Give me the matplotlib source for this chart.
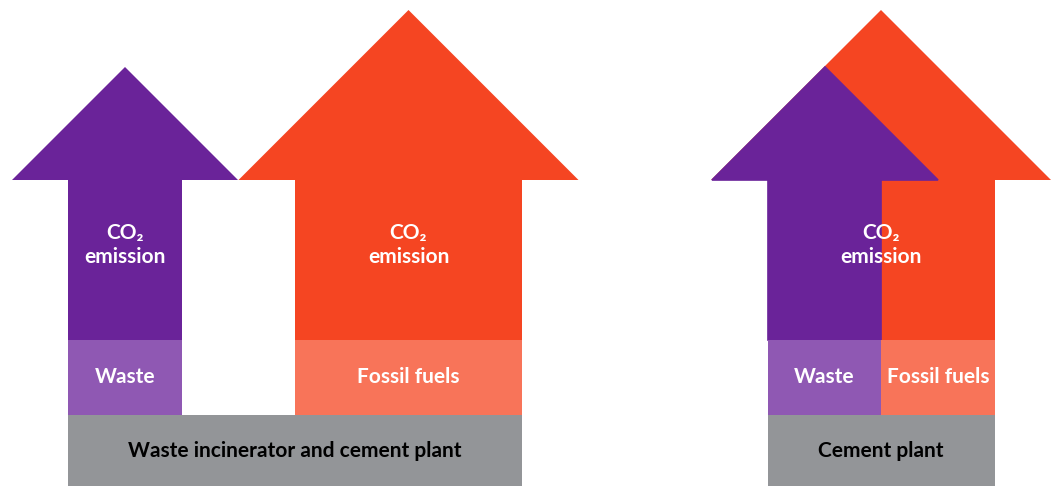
import matplotlib.pyplot as plt
from matplotlib.patches import Polygon, Rectangle

# --- Labels / categories ---
sources = ["Waste", "Fossil fuels"]
plants = ["Waste incinerator and cement plant", "Cement plant"]
emission_label = "CO\u2082\nemission"

# --- Colours ---
dark = {"Waste": "#6a2399", "Fossil fuels": "#f54522"}
light = {"Waste": "#8f58b3", "Fossil fuels": "#f87459"}
grey = "#939598"

# --- Layout (pixel coords, y pointing down) ---
# shaft left / right for each source, per plant
left_shafts = {"Waste": (68, 182), "Fossil fuels": (295, 522)}
left_heads = {"Waste": (125, 113), "Fossil fuels": (408.5, 170)}   # centre, half width
right_shafts = {"Waste": (768, 881), "Fossil fuels": (768, 995)}
right_heads = {"Waste": (825, 113), "Fossil fuels": (881, 170)}
right_boxes = {"Waste": (768, 881), "Fossil fuels": (881, 995)}
shaft_top, box_top, plant_top, bottom = 180, 340, 415, 486

plt.rcParams["font.family"] = ["Lato", "DejaVu Sans"]

fig = plt.figure(figsize=(10.59, 4.86), dpi=100)
ax = fig.add_axes([0, 0, 1, 1])
ax.set_xlim(0, 1059)
ax.set_ylim(bottom, 0)
ax.axis("off")


def arrow(x0, x1, cx, hw, color, edge=False):
    pts = [(x0, box_top), (x0, shaft_top), (cx - hw, shaft_top), (cx, shaft_top - hw),
           (cx + hw, shaft_top), (x1, shaft_top), (x1, box_top)]
    ax.add_patch(Polygon(pts, closed=True, facecolor=color,
                         edgecolor=color if edge else "none", linewidth=1.2 if edge else 0))


txt = dict(color="white", fontsize=15, fontweight="bold", ha="center", va="center")
emis = dict(txt, linespacing=1.3)

# left diagram: separate arrows
for s in sources:
    x0, x1 = left_shafts[s]
    cx, hw = left_heads[s]
    arrow(x0, x1, cx, hw, dark[s])
    ax.add_patch(Rectangle((x0, box_top), x1 - x0, plant_top - box_top,
                           facecolor=light[s], edgecolor="none"))
    ax.text((x0 + x1) / 2, 245, emission_label, **emis)
    ax.text((x0 + x1) / 2, 377, s, **txt)
ax.add_patch(Rectangle((68, plant_top), 522 - 68, bottom - plant_top,
                       facecolor=grey, edgecolor="none"))
ax.text(295, 451, plants[0], color="black", fontsize=15, fontweight="bold",
        ha="center", va="center")

# right diagram: overlapping arrows (fossil drawn first)
for s in reversed(sources):
    x0, x1 = right_shafts[s]
    cx, hw = right_heads[s]
    arrow(x0, x1, cx, hw, dark[s], edge=(s == "Waste"))
for s in sources:
    x0, x1 = right_boxes[s]
    ax.add_patch(Rectangle((x0, box_top), x1 - x0, plant_top - box_top,
                           facecolor=light[s], edgecolor="none"))
    ax.text((x0 + x1) / 2, 377, s, **txt)
ax.text(881, 245, emission_label, **emis)
ax.add_patch(Rectangle((768, plant_top), 995 - 768, bottom - plant_top,
                       facecolor=grey, edgecolor="none"))
ax.text(881, 451, plants[1], color="black", fontsize=15, fontweight="bold",
        ha="center", va="center")

fig.savefig("out.png", dpi=100)
